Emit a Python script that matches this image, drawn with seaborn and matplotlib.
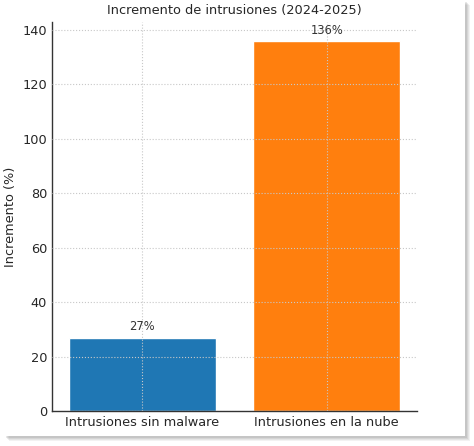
import matplotlib
matplotlib.use('Agg')
import matplotlib.pyplot as plt
from matplotlib.patches import Rectangle
import seaborn as sns
import pandas as pd

# data
categorias = ['Intrusiones sin malware', 'Intrusiones en la nube']
incremento = [27, 136]
colores = ['#1f77b4', '#ff7f0e']
yticks = [0, 20, 40, 60, 80, 100, 120, 140]

sns.set_style('whitegrid')
plt.rcParams['font.family'] = ['DejaVu Sans']

df = pd.DataFrame({'categoria': categorias, 'incremento': incremento})

fig = plt.figure(figsize=(4.74, 4.46), dpi=100)
fig.patch.set_facecolor('white')

# card with a soft drop shadow
W, H = 474, 446
for i, a in enumerate([0.10, 0.12, 0.15, 0.18]):
    off = 5 - i
    fig.patches.append(Rectangle(((4 + off) / W, (10 - off) / H), 461 / W, 436 / H,
                                 transform=fig.transFigure, facecolor='#808080',
                                 edgecolor='none', alpha=a, zorder=-3))
fig.patches.append(Rectangle((4 / W, 10 / H), 461 / W, 436 / H,
                             transform=fig.transFigure, facecolor='white',
                             edgecolor='none', zorder=-2))

ax = fig.add_axes([52 / W, 35 / H, 365 / W, 388.6 / H])
ax.set_facecolor('none')

sns.barplot(data=df, x='categoria', y='incremento', hue='categoria',
            palette=colores, legend=False, width=0.8, saturation=1, ax=ax)
ax.set_xlim(-0.49, 1.49)
ax.set_ylim(0, 142.8)
ax.set_yticks(yticks)

for cont in ax.containers:
    ax.bar_label(cont, fmt='%d%%', padding=3, fontsize=8.3, color='#333333')

ax.grid(True, linestyle=':', color='#c8c8c8', linewidth=0.8)
ax.set_axisbelow(False)
for s in ['top', 'right']:
    ax.spines[s].set_visible(False)
for s in ['left', 'bottom']:
    ax.spines[s].set_color('#333333')
    ax.spines[s].set_linewidth(1.0)

ax.tick_params(axis='both', which='both', length=0, pad=3.5,
               labelsize=9.3, labelcolor='#262626')
ax.set_xlabel('')
ax.set_ylabel('Incremento (%)', fontsize=9.3, color='#262626', labelpad=4)
ax.set_title('Incremento de intrusiones (2024-2025)', fontsize=9.3, color='#262626', pad=6)

fig.savefig('out.png', dpi=100)
